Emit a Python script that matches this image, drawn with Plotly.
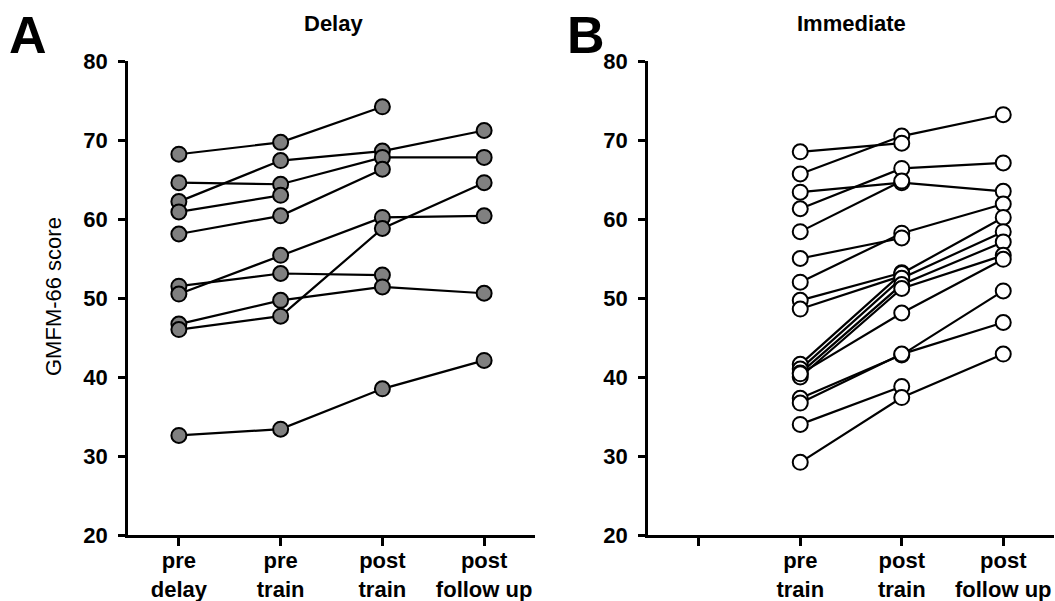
import plotly.graph_objects as go

# ---------------- data ----------------
delay_categories = ["pre<br>delay", "pre<br>train", "post<br>train", "post<br>follow up"]
delay_scores = [
    [68.2, 69.7, 74.2, None],
    [62.2, 67.4, 68.6, 71.2],
    [64.6, 64.4, 67.8, 67.8],
    [60.9, 63.0, None, None],
    [58.1, 60.4, 66.3, None],
    [51.5, 53.1, 52.9, None],
    [50.5, 55.4, 60.2, 60.4],
    [46.7, 49.7, 51.4, 50.6],
    [46.0, 47.7, 58.8, 64.6],
    [32.6, 33.4, 38.5, 42.1],
]

immediate_categories = ["", "pre<br>train", "post<br>train", "post<br>follow up"]
immediate_scores = [
    [65.7, 70.5, 73.2],
    [68.5, 69.6, None],
    [61.3, 66.4, 67.1],
    [63.4, 64.6, 63.5],
    [58.4, 64.8, None],
    [52.0, 58.2, 61.9],
    [55.0, 57.6, None],
    [49.7, 53.2, None],
    [48.6, 52.8, None],
    [41.6, 53.1, 60.2],
    [41.0, 52.5, 58.4],
    [40.5, 51.7, 57.1],
    [40.0, 51.2, 55.4],
    [40.4, 48.1, 54.9],
    [37.3, 42.8, 50.9],
    [36.7, 42.9, 46.9],
    [34.0, 38.8, None],
    [29.2, 37.4, 42.9],
]
immediate_offset = 1  # first (blank) category slot is empty

y_ticks = [20, 30, 40, 50, 60, 70, 80]
panel_titles = ["Delay", "Immediate"]
panel_letters = ["A", "B"]

# ---------------- figure ----------------
W, H = 1055, 601
FONT = "Liberation Sans, Arial, sans-serif"
fig = go.Figure()

def add_panel(scores, offset, xa, ya, fill):
    # lines first
    for row in scores:
        xs = [offset + i for i in range(len(row))]
        fig.add_trace(go.Scatter(x=xs, y=row, mode="lines", xaxis=xa, yaxis=ya,
                                 line=dict(color="black", width=2.2),
                                 showlegend=False, hoverinfo="skip"))
    for row in scores:
        xs = [offset + i for i in range(len(row))]
        fig.add_trace(go.Scatter(x=xs, y=row, mode="markers", xaxis=xa, yaxis=ya,
                                 marker=dict(size=15, color=fill,
                                             line=dict(color="black", width=2)),
                                 showlegend=False))

add_panel(delay_scores, 0, "x", "y", "#808080")
add_panel(immediate_scores, immediate_offset, "x2", "y2", "white")

def px2fx(p):
    return p / W

def px2fy(p):
    return 1 - p / H

ydom = [px2fy(535), px2fy(61)]

common_x = dict(range=[-0.5, 3.5], showline=True, linecolor="black", linewidth=2.5,
                ticks="outside", ticklen=8, tickwidth=2.5, tickcolor="black",
                showgrid=False, zeroline=False, tickvals=[0, 1, 2, 3],
                tickfont=dict(family=FONT, size=22, color="black", weight="bold"),
                automargin=False, fixedrange=True, ticklabelstandoff=-4)
common_y = dict(range=[20, 80], showline=True, linecolor="black", linewidth=2.5,
                ticks="outside", ticklen=7, tickwidth=2.5, tickcolor="black",
                showgrid=False, zeroline=False, tickvals=y_ticks,
                tickfont=dict(family=FONT, size=22, color="black", weight="bold"),
                domain=ydom, automargin=False, fixedrange=True, ticklabelstandoff=6)

xa1 = dict(common_x); xa1.update(domain=[px2fx(128), px2fx(535)], ticktext=delay_categories, anchor="y")
xa2 = dict(common_x); xa2.update(domain=[px2fx(648), px2fx(1054)], ticktext=immediate_categories, anchor="y2")
ya1 = dict(common_y); ya1.update(anchor="x")
ya2 = dict(common_y); ya2.update(anchor="x2")

fig.update_layout(
    width=W, height=H, margin=dict(l=0, r=0, t=0, b=0),
    plot_bgcolor="white", paper_bgcolor="white",
    xaxis=xa1, yaxis=ya1, xaxis2=xa2, yaxis2=ya2,
)

annos = [
    dict(text=panel_letters[0], x=px2fx(28), y=px2fy(35), font=dict(size=52, weight="bold")),
    dict(text=panel_letters[1], x=px2fx(586), y=px2fy(35), font=dict(size=52, weight="bold")),
    dict(text=panel_titles[0], x=px2fx(333), y=px2fy(24), font=dict(size=22, weight="bold")),
    dict(text=panel_titles[1], x=px2fx(851), y=px2fy(24), font=dict(size=22, weight="bold")),
    dict(text="GMFM-66 score", x=px2fx(53), y=px2fy(297), textangle=-90, font=dict(size=22)),
]
for a in annos:
    a["font"].update(family=FONT, color="black")
    fig.add_annotation(xref="paper", yref="paper", showarrow=False,
                       xanchor="center", yanchor="middle", **a)

fig.write_html("out.html")
